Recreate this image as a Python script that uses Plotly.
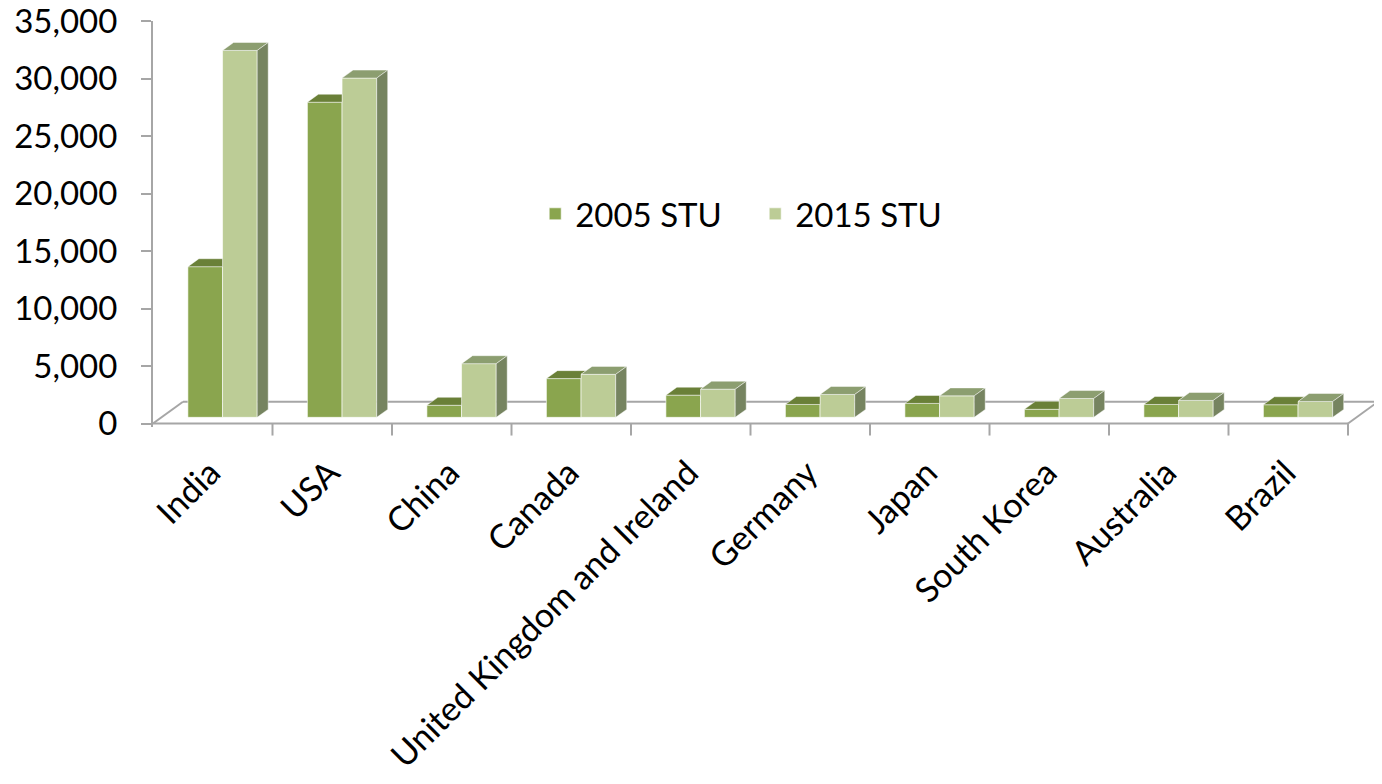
import plotly.graph_objects as go

# data
countries = ["India", "USA", "China", "Canada", "United Kingdom and Ireland",
             "Germany", "Japan", "South Korea", "Australia", "Brazil"]
stu_2005 = [13100, 27400, 1050, 3370, 1930, 1120, 1210, 700, 1120, 1100]
stu_2015 = [31900, 29500, 4670, 3740, 2450, 1990, 1870, 1640, 1470, 1380]
y_ticks = [0, 5000, 10000, 15000, 20000, 25000, 30000, 35000]

# colours
c05_front, c05_top = "#8AA54E", "#6A8038"
c15_front, c15_top, c15_side = "#BCCC96", "#8C9E70", "#768460"
axis_grey = "#A6A6A6"

# fake-3D geometry (x in category units, y in value units)
BAR_W = 0.29      # width of one bar
SHIFT = 0.082     # group shift because bars sit in the middle of the floor depth
DX, DY = 0.092, 690      # bar depth offset
LIFT = 540               # bar bottoms sit a little above the front floor edge
FLOOR_DX, FLOOR_DY = 0.251, 1900
Y_PAD = 300
AXIS_PX = 403            # pixels from 0 to 35,000

# the page body has an 8px margin, so the figure is drawn 8px smaller/offset
W, H = 1374, 776
PLOT_L, PLOT_T, PLOT_R = 145, 13, 1370

n = len(countries)
idx = list(range(n))

fig = go.Figure()

# front faces as real bars
fig.add_trace(go.Bar(
    x=[i + SHIFT - BAR_W / 2 for i in idx], y=stu_2005, base=LIFT, width=BAR_W,
    name="2005 STU", marker=dict(color=c05_front, line=dict(color="rgba(255,255,255,0.6)", width=1)),
    hovertemplate="%{customdata}: %{y:,}<extra>2005 STU</extra>", customdata=countries))
fig.add_trace(go.Bar(
    x=[i + SHIFT + BAR_W / 2 for i in idx], y=stu_2015, base=LIFT, width=BAR_W,
    name="2015 STU", marker=dict(color=c15_front, line=dict(color="rgba(255,255,255,0.6)", width=1)),
    hovertemplate="%{customdata}: %{y:,}<extra>2015 STU</extra>", customdata=countries))

# top / side faces, computed from the values
top05_x, top05_y = [], []
top15_x, top15_y = [], []
side15_x, side15_y = [], []
for i, v5, v15 in zip(idx, stu_2005, stu_2015):
    x0, x1, x2 = i + SHIFT - BAR_W, i + SHIFT, i + SHIFT + BAR_W
    t5, t15 = LIFT + v5, LIFT + v15
    # 2005 top face, clipped where the 2015 bar hides it
    h = max(t5, min(t15, t5 + DY))
    ex = x1 + DX * (t5 + DY - h) / DY
    top05_x += [x0, x1, x1, ex, x0 + DX, x0, None]
    top05_y += [t5, t5, h, t5 + DY, t5 + DY, t5, None]
    top15_x += [x1, x2, x2 + DX, x1 + DX, x1, None]
    top15_y += [t15, t15, t15 + DY, t15 + DY, t15, None]
    side15_x += [x2, x2 + DX, x2 + DX, x2, x2, None]
    side15_y += [LIFT, LIFT + DY, t15 + DY, t15, LIFT, None]

edge = dict(color="rgba(255,255,255,0.45)", width=1)
for xs, ys, col in [(top05_x, top05_y, c05_top), (top15_x, top15_y, c15_top),
                    (side15_x, side15_y, c15_side)]:
    fig.add_trace(go.Scatter(x=xs, y=ys, mode="lines", fill="toself", fillcolor=col,
                             line=edge, showlegend=False, hoverinfo="skip"))

# floor outline
x_left, x_right = -0.5, n - 0.5
floor = [
    (x_left, 0, x_right, 0),
    (x_right, 0, x_right + FLOOR_DX, FLOOR_DY),
    (x_left + FLOOR_DX, FLOOR_DY, x_right + FLOOR_DX, FLOOR_DY),
    (x_left, 0, x_left + FLOOR_DX, FLOOR_DY),
]
for xa, ya, xb, yb in floor:
    fig.add_shape(type="line", xref="x", yref="y", x0=xa, y0=ya, x1=xb, y1=yb,
                  line=dict(color=axis_grey, width=2), layer="below")

# category separator ticks under the front edge
plot_h = AXIS_PX * (35000 + Y_PAD) / 35000
zero_p = Y_PAD / (35000 + Y_PAD)
for k in range(1, n + 1):
    fig.add_shape(type="line", xref="x", yref="paper", x0=k - 0.5, x1=k - 0.5,
                  y0=zero_p, y1=zero_p - 12 / plot_h,
                  line=dict(color=axis_grey, width=2))

font = dict(family="Lato", size=33, color="#000000")
yfont = dict(family="Lato", size=33, color="#000000")
xfont = dict(family="Lato", size=34, color="#000000")
fig.update_layout(
    width=W, height=H, autosize=False,
    margin=dict(l=PLOT_L, r=W - PLOT_R, t=PLOT_T, b=H - PLOT_T - plot_h),
    paper_bgcolor="white", plot_bgcolor="white",
    barmode="overlay", font=font,
    showlegend=True,
    legend=dict(orientation="h", x=0.312, xanchor="left", y=0.525, yanchor="middle",
                font=font, bgcolor="rgba(0,0,0,0)", entrywidth=175),
    xaxis=dict(range=[x_left, x_right + FLOOR_DX], tickvals=[i - 0.02 for i in idx],
               ticktext=countries, tickangle=-45, showline=False, showgrid=False,
               zeroline=False, ticks="", tickfont=xfont, ticklabelstandoff=18,
               automargin=False, ticklabeloverflow="allow"),
    yaxis=dict(range=[-Y_PAD, 35000], tickvals=y_ticks, tickformat=",", showgrid=False,
               zeroline=False, showline=True, linecolor=axis_grey, linewidth=2,
               ticks="outside", ticklen=10, tickwidth=2, tickcolor=axis_grey,
               tickfont=yfont, ticklabelstandoff=17, automargin=False,
               ticklabeloverflow="allow"),
)

fig.write_html("out.html")
